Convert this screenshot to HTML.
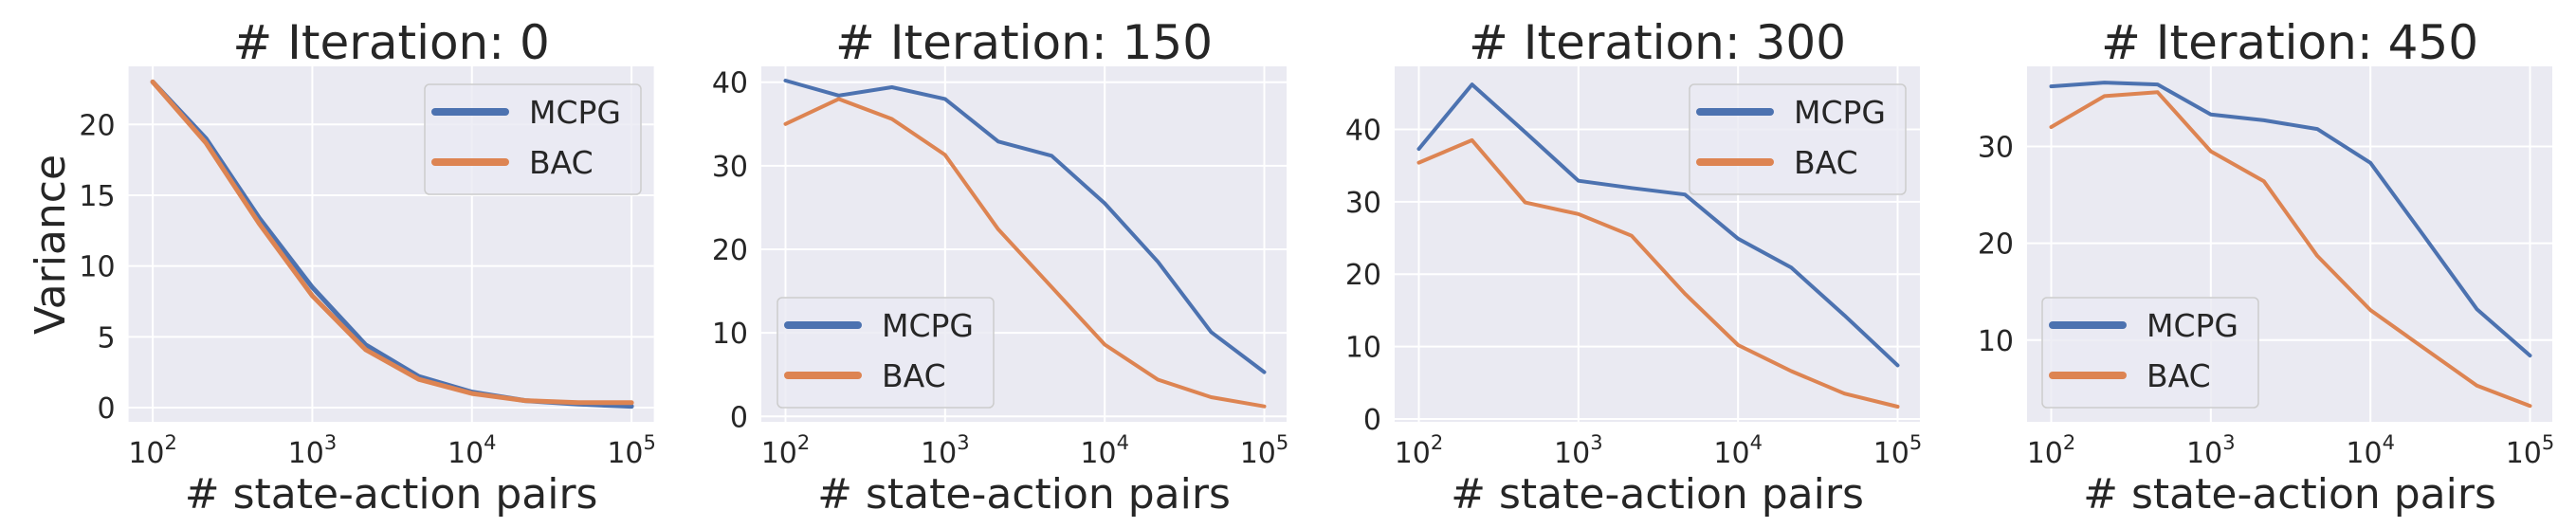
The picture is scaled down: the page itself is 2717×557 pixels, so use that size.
<!DOCTYPE html>
<html><head><meta charset="utf-8"><style>
html,body{margin:0;padding:0;background:#fff;}
svg{display:block;font-family:"DejaVu Sans","Liberation Sans",sans-serif;}
</style></head><body>
<svg id="fig" width="2717" height="557" viewBox="0 0 2717 557"></svg>
<script>
const xValues = [100, 215.4, 464.2, 1000, 2154, 4642, 10000, 21544, 46416, 100000];
const seriesNames = ["MCPG", "BAC"];
const panelTitles = ["# Iteration: 0", "# Iteration: 150", "# Iteration: 300", "# Iteration: 450"];
const mcpg0 = [23.0, 19.0, 13.4, 8.5, 4.45, 2.2, 1.1, 0.5, 0.25, 0.1];
const bac0 = [23.0, 18.7, 13.0, 7.9, 4.1, 2.0, 1.0, 0.5, 0.35, 0.35];
const mcpg150 = [40.2, 38.4, 39.4, 38.0, 32.9, 31.2, 25.5, 18.5, 10.1, 5.3];
const bac150 = [35.0, 38.0, 35.6, 31.3, 22.4, 15.5, 8.6, 4.4, 2.3, 1.2];
const mcpg300 = [37.3, 46.2, 39.6, 32.9, 31.9, 31.0, 24.9, 20.9, 14.3, 7.4];
const bac300 = [35.4, 38.5, 29.9, 28.3, 25.3, 17.3, 10.2, 6.6, 3.5, 1.7];
const mcpg450 = [36.2, 36.6, 36.4, 33.3, 32.7, 31.8, 28.3, 20.8, 13.2, 8.4];
const bac450 = [32.0, 35.2, 35.6, 29.5, 26.4, 18.7, 13.1, 9.2, 5.3, 3.2];
const yTicks0 = [0, 5, 10, 15, 20];
const yTicks150 = [0, 10, 20, 30, 40];
const yTicks300 = [0, 10, 20, 30, 40];
const yTicks450 = [10, 20, 30];
const xTickExps = [2, 3, 4, 5];

const NS = "http://www.w3.org/2000/svg";
const svg = document.getElementById("fig");
function el(tag, attrs, parent) {
  const e = document.createElementNS(NS, tag);
  for (const k in attrs) e.setAttribute(k, attrs[k]);
  (parent || svg).appendChild(e);
  return e;
}
const panels = [
  {left: 135.6, ylim: [-1.0, 24.1], ticks: yTicks0, m: mcpg0, b: bac0, leg: [448, 89], ylabel: true},
  {left: 803, ylim: [-0.65, 41.9], ticks: yTicks150, m: mcpg150, b: bac150, leg: [820, 314]},
  {left: 1471, ylim: [-0.4, 48.7], ticks: yTicks300, m: mcpg300, b: bac300, leg: [1782, 89]},
  {left: 2138, ylim: [1.56, 38.27], ticks: yTicks450, m: mcpg450, b: bac450, leg: [2154, 314]}
];
const W = 554, TOP = 70, BOT = 445;
const colors = ["#4c72b0", "#dd8452"];
panels.forEach((p, i) => {
  const g = el("g", {});
  
  
  const xs = v => p.left + 25.5 + (Math.log10(v) - 2) / 3 * (W - 49);
  const ys = v => BOT - (v - p.ylim[0]) / (p.ylim[1] - p.ylim[0]) * (BOT - TOP);
  const bg = el("rect", {x: p.left, y: TOP, width: W, height: BOT - TOP, fill: "#eaeaf2"}, g);
  
  
  xTickExps.forEach(e => {
    const x = xs(Math.pow(10, e));
    const gl = el("line", {x1: x, x2: x, y1: TOP, y2: BOT, stroke: "#fff", "stroke-width": 2}, g);
    
    
    const t = el("text", {x: x, y: 488, "text-anchor": "middle", "font-size": 30, fill: "#262626"}, g);
    
    
    t.textContent = "10";
    const s = el("tspan", {dy: -14, "font-size": 21}, t);
    s.textContent = String(e);
  });
  p.ticks.forEach(v => {
    const y = ys(v);
    const gl = el("line", {x1: p.left, x2: p.left + W, y1: y, y2: y, stroke: "#fff", "stroke-width": 2}, g);
    
    
    const t = el("text", {x: p.left - 14, y: y + 11, "text-anchor": "end", "font-size": 30, fill: "#262626"}, g);
    
    
    t.textContent = String(v);
  });
  [p.m, p.b].forEach((arr, si) => {
    const pts = arr.map((v, k) => xs(xValues[k]).toFixed(1) + "," + ys(v).toFixed(1)).join(" ");
    const pl = el("polyline", {points: pts, fill: "none", stroke: colors[si], "stroke-width": i === 0 ? 5 : 4, "stroke-linejoin": "round", "stroke-linecap": "round"}, g);
    
    
  });
  const title = el("text", {x: p.left + W / 2, y: 62, "text-anchor": "middle", "font-size": 50, fill: "#262626"}, g);
  
  
  title.textContent = panelTitles[i];
  const xl = el("text", {x: p.left + W / 2, y: 536, "text-anchor": "middle", "font-size": 44, fill: "#262626"}, g);
  
  
  xl.textContent = "# state-action pairs";
  if (p.ylabel) {
    const yl = el("text", {x: 0, y: 0, transform: "translate(68,258) rotate(-90)", "text-anchor": "middle", "font-size": 44, fill: "#262626"}, g);
    
    
    yl.textContent = "Variance";
  }
  const lg = el("g", {}, g);
  
  
  const [lx, ly] = p.leg;
  el("rect", {x: lx, y: ly, width: 228, height: 116, rx: 5, fill: "#eaeaf2", "fill-opacity": 0.8, stroke: "#cccccc", "stroke-width": 1.5}, lg);
  seriesNames.forEach((n, si) => {
    const yy = ly + 29 + si * 53;
    const ln = el("line", {x1: lx + 11, x2: lx + 85, y1: yy, y2: yy, stroke: colors[si], "stroke-width": 8, "stroke-linecap": "round"}, lg);
    
    
    const t = el("text", {x: lx + 110, y: yy + 12, "font-size": 33, fill: "#262626"}, lg);
    
    
    t.textContent = n;
  });
});
</script>
</body></html>
